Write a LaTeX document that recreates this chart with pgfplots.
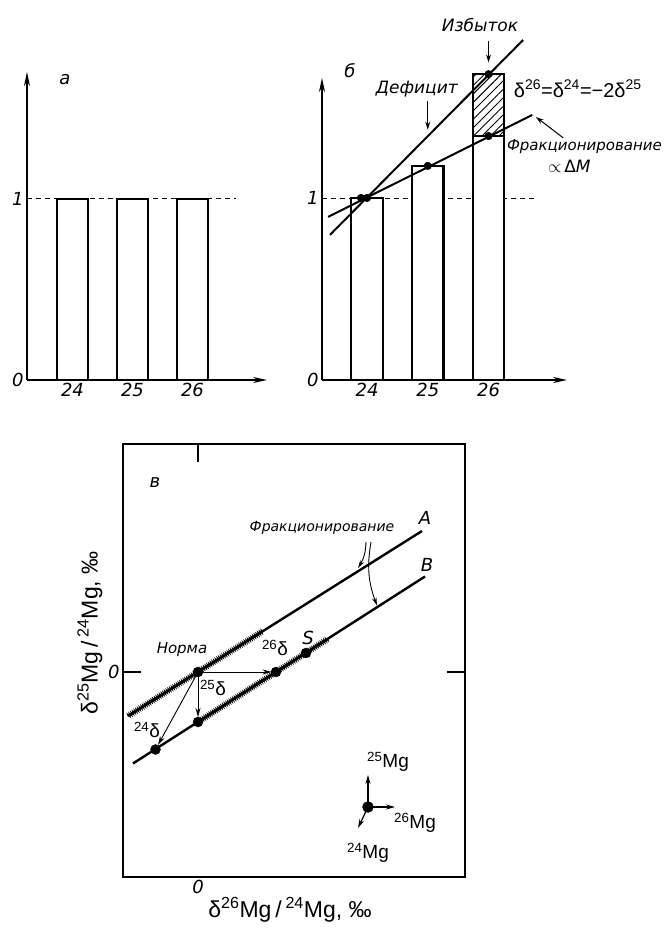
\documentclass[border=0pt]{standalone}
\usepackage{pgfplots}
\pgfplotsset{compat=1.18}
\usepackage{fontspec}
\setmainfont{DejaVu Sans}
\newfontfamily\lsans{Liberation Sans}
\usetikzlibrary{arrows.meta,patterns.meta,decorations.pathmorphing}
\newcommand{\fs}[1]{\fontsize{#1}{#1}\selectfont}
\tikzset{sarrow/.style={line width=1pt,-{Stealth[length=8pt,width=5pt]}}}
\begin{document}
\begin{tikzpicture}
\useasboundingbox (0pt,0pt) rectangle (666pt,932pt);
\pgfplotsset{
  panel/.style={scale only axis, clip=false, axis lines=left,
    axis line style={line width=1.6pt,-{Stealth[length=14pt,width=6pt]}},
    major tick length=0pt,
    ticklabel style={font=\itshape\fs{18}},
    /pgf/number format/assume math mode=true,
    xtick={24,25,26}, ytick={0,1},
  },
  mybar/.style={ybar, bar shift=0pt, bar width=0.52, draw=black, line width=2.2pt, fill=white},
}
% ---------------- panel a
\begin{axis}[panel, at={(27pt,552pt)}, anchor=south west, width=240pt, height=308pt,
  xmin=23.242, xmax=27.242, ymin=0, ymax=1.70]
\addplot[line width=0.8pt, dash pattern=on 5pt off 4pt] coordinates {(23.242,1) (26.73,1)};
\addplot[mybar] coordinates {(24,1) (25,1) (26,1)};
\node[font=\itshape\fs{18}] at (axis cs:23.875,1.657) {а};
\end{axis}
% ---------------- panel b
\begin{axis}[panel, at={(322pt,552pt)}, anchor=south west, width=245pt, height=302pt,
  xmin=23.259, xmax=27.292, ymin=0, ymax=1.659]
\addplot[line width=0.8pt, dash pattern=on 5pt off 4pt] coordinates {(23.259,1) (26.8,1)};
\addplot[mybar] coordinates {(24,1) (25,1.176)};
\addplot[ybar, bar shift=0pt, bar width=0.52, draw=none, pattern={Lines[angle=45,distance=6pt,line width=0.9pt]}] coordinates {(26,1.68)};
\addplot[mybar] coordinates {(26,1.34)};
\addplot[mybar, fill=none] coordinates {(26,1.68)};
\addplot[line width=2pt] coordinates {(23.39,0.797) (26.57,1.868)};
\addplot[line width=2pt] coordinates {(23.36,0.896) (26.72,1.456)};
\addplot[only marks, mark=*, mark size=3.8pt] coordinates {(23.9,1.0) (24,1) (25,1.176) (26,1.34) (26,1.68)};
\node[font=\itshape\fs{18}] at (axis cs:23.72,1.70) {б};
\node[font=\itshape\fs{17}] at (axis cs:25.86,1.95) {Избыток};
\draw[sarrow] (axis cs:26,1.86) -- (axis cs:26,1.745);
\node[font=\itshape\fs{17}] at (axis cs:24.82,1.60) {Дефицит};
\draw[sarrow] (axis cs:25.0,1.53) -- (axis cs:25.0,1.375);
\node[font=\lsans\fs{20}] at (axis cs:27.47,1.60) {δ\textsuperscript{26}=δ\textsuperscript{24}=−2δ\textsuperscript{25}};
\node[font=\itshape\fs{15}] at (axis cs:27.58,1.28) {Фракционирование};
\node[font=\fs{17}] at (axis cs:27.33,1.175) {$\propto$\,Δ\textit{M}};
\draw[sarrow] (axis cs:27.23,1.33) -- (axis cs:26.78,1.445);
\end{axis}
% ---------------- panel v
\begin{axis}[scale only axis, clip=false, at={(123pt,55pt)}, anchor=south west, width=342pt, height=433pt,
  xmin=-1.5, xmax=5.34, ymin=-4.1, ymax=4.56,
  axis line style={line width=1.6pt},
  xtick={0}, ytick={0}, xtick pos=upper, xticklabel pos=lower,
  tick align=inside, major tick length=18pt, tick style={line width=1.4pt, black},
  ticklabel style={font=\itshape\fs{18}},
  /pgf/number format/assume math mode=true,
]
\addplot[line width=2.4pt] coordinates {(-1.4,-0.88) (4.48,2.82)};
\addplot[line width=2.4pt] coordinates {(-1.3,-1.83) (4.54,1.91)};
\addplot[line width=1pt, decorate, decoration={zigzag, segment length=2pt, amplitude=1.8pt}] coordinates {(-1.4,-0.88) (1.3,0.82)};
\addplot[line width=1pt, decorate, decoration={zigzag, segment length=2pt, amplitude=1.8pt}] coordinates {(0,-1) (2.6,0.664)};
\addplot[line width=0.9pt, -{Stealth[length=9pt,width=5pt]}] coordinates {(0,0) (1.47,0)};
\addplot[line width=0.9pt, -{Stealth[length=9pt,width=5pt]}] coordinates {(0,0) (0,-0.9)};
\addplot[line width=0.9pt, -{Stealth[length=9pt,width=5pt]}] coordinates {(0,0) (-0.80,-1.46)};
\addplot[only marks, mark=*, mark size=5pt] coordinates {(0,0) (1.56,0) (2.16,0.38) (0,-1) (-0.85,-1.55)};
% compass
\addplot[only marks, mark=*, mark size=5.5pt] coordinates {(3.4,-2.7)};
\addplot[line width=1.2pt, -{Stealth[length=9pt,width=5pt]}] coordinates {(3.4,-2.7) (3.4,-2.06)};
\addplot[line width=1.2pt, -{Stealth[length=9pt,width=5pt]}] coordinates {(3.4,-2.7) (3.94,-2.7)};
\addplot[line width=1.2pt, -{Stealth[length=9pt,width=5pt]}] coordinates {(3.4,-2.7) (3.2,-3.12)};
\node[font=\lsans\fs{19}] at (axis cs:3.8,-1.8) {\textsuperscript{25}Mg};
\node[font=\lsans\fs{19}] at (axis cs:4.34,-3.02) {\textsuperscript{26}Mg};
\node[font=\lsans\fs{19}] at (axis cs:3.4,-3.62) {\textsuperscript{24}Mg};
% labels
\node[font=\itshape\fs{18}] at (axis cs:-0.86,3.78) {в};
\node[font=\itshape\fs{15}] at (axis cs:-0.32,0.44) {Норма};
\node[font=\lsans\fs{19}] at (axis cs:1.54,0.48) {\textsuperscript{26}δ};
\node[font=\itshape\fs{18}] at (axis cs:2.2,0.68) {S};
\node[font=\lsans\fs{19}] at (axis cs:0.30,-0.32) {\textsuperscript{25}δ};
\node[font=\lsans\fs{19}] at (axis cs:-1.02,-1.16) {\textsuperscript{24}δ};
\node[font=\itshape\fs{14}] at (axis cs:2.48,2.88) {Фракционирование};
\node[font=\itshape\fs{18}] at (axis cs:4.54,3.08) {A};
\node[font=\itshape\fs{18}] at (axis cs:4.58,2.14) {B};
\draw[line width=0.9pt,-{Stealth[length=8pt,width=4.5pt]}] (axis cs:3.36,2.6) to[bend left=15] (axis cs:3.2,2.08);
\draw[line width=0.9pt,-{Stealth[length=8pt,width=4.5pt]}] (axis cs:3.46,2.6) to[bend right=15] (axis cs:3.58,1.33);
% axis labels
\node[font=\lsans\fs{23}] at (axis cs:1.84,-4.76) {δ\textsuperscript{26}Mg\,/\,\textsuperscript{24}Mg, ‰};
\node[font=\lsans\fs{23}, rotate=90] at (axis cs:-2.16,0.78) {δ\textsuperscript{25}Mg\,/\,\textsuperscript{24}Mg, ‰};
\end{axis}
\end{tikzpicture}
\end{document}
